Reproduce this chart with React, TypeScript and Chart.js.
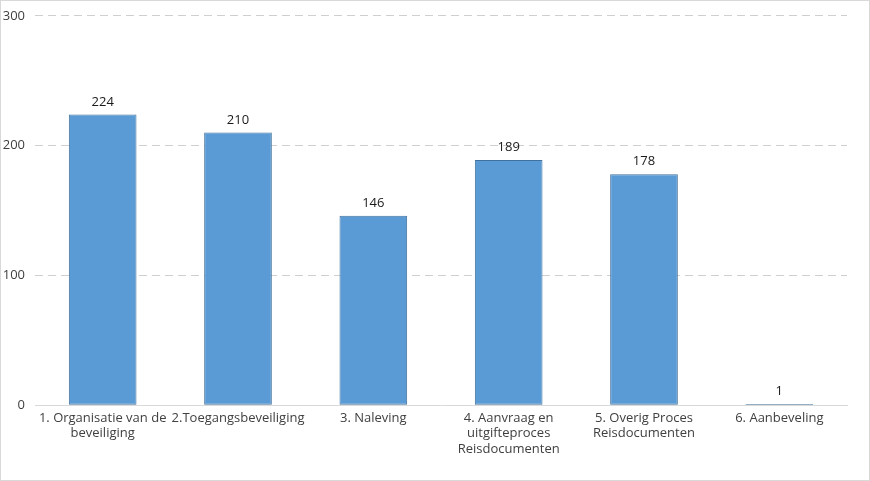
import React, { useEffect, useRef } from "react";
import { Chart, registerables } from "chart.js";

Chart.register(...registerables);

const categories: string[][] = [
  ["1. Organisatie van de", "beveiliging"],
  ["2.Toegangsbeveiliging"],
  ["3. Naleving"],
  ["4. Aanvraag en", "uitgifteproces", "Reisdocumenten"],
  ["5. Overig Proces", "Reisdocumenten"],
  ["6. Aanbeveling"],
];
const values: number[] = [224, 210, 146, 189, 178, 1];
const yTicks: number[] = [0, 100, 200, 300];

const FONT = "'Open Sans', 'Noto Sans', sans-serif";

const dataLabels = {
  id: "dataLabels",
  afterDatasetsDraw(chart: any) {
    const ctx = chart.ctx;
    const meta = chart.getDatasetMeta(0);
    ctx.save();
    ctx.font = `13px ${FONT}`;
    ctx.fillStyle = "#1a1a1a";
    ctx.textAlign = "center";
    ctx.textBaseline = "bottom";
    meta.data.forEach((bar: any, i: number) => {
      ctx.fillText(String(values[i]), bar.x, bar.y - 6);
    });
    ctx.restore();
  },
};

export default function App() {
  const ref = useRef<HTMLCanvasElement>(null);
  useEffect(() => {
    if (!ref.current) return;
    const chart = new Chart(ref.current, {
      type: "bar",
      data: {
        labels: categories,
        datasets: [
          {
            data: values,
            backgroundColor: "#5B9BD5",
            borderColor: "#41719C",
            borderWidth: 1,
            borderSkipped: false,
            categoryPercentage: 1,
            barPercentage: 0.5,
          },
        ],
      },
      options: {
        animation: false,
        responsive: false,
        maintainAspectRatio: false,
        layout: { padding: { top: 0, right: 22, bottom: 15, left: 0 } },
        plugins: { legend: { display: false }, tooltip: { enabled: false } },
        scales: {
          x: {
            grid: { display: false, drawTicks: false },
            border: { display: true, color: "#d9d9d9", width: 1 },
            ticks: {
              color: "#404040",
              font: { family: FONT, size: 13 },
              padding: 5,
              maxRotation: 0,
              autoSkip: false,
            },
          },
          y: {
            min: 0,
            max: 300,
            afterFit: (scale: any) => {
              scale.width = 34;
            },
            afterBuildTicks: (scale: any) => {
              scale.ticks = yTicks.map((v) => ({ value: v }));
            },
            grid: {
              color: (c: any) => (c.tick && c.tick.value === 0 ? "rgba(0,0,0,0)" : "#cfcfcf"),
              drawTicks: false,
              lineWidth: 1,
            },
            border: { display: false, dash: [8, 5] },
            ticks: {
              color: "#404040",
              font: { family: FONT, size: 13 },
              padding: 10,
            },
          },
        },
      },
      plugins: [dataLabels],
    });
    return () => chart.destroy();
  }, []);
  return (
    <div
      style={{
        position: "absolute",
        left: 0,
        top: 0,
        width: 870,
        height: 481,
        boxSizing: "border-box",
        border: "1px solid #d9d9d9",
        background: "#fff",
        overflow: "hidden",
      }}
    >
      <canvas
        ref={ref}
        width={868}
        height={479}
        style={{ display: "block", position: "absolute", left: 0, top: -3 }}
      />
    </div>
  );
}
